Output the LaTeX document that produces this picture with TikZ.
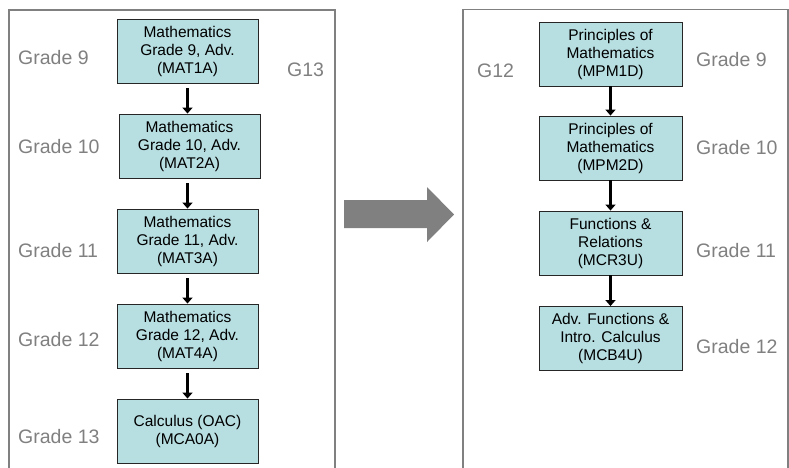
\documentclass[tikz,border=0pt]{standalone}
\usepackage{fontspec}
\setmainfont{Liberation Sans}
\usetikzlibrary{arrows.meta}
\definecolor{boxfill}{RGB}{183,222,225}
\definecolor{panelline}{RGB}{128,128,128}
\definecolor{labelgray}{RGB}{128,128,128}
\definecolor{bigarrow}{RGB}{128,128,128}
\tikzset{
  course/.style={draw=black!85, line width=0.9pt, fill=boxfill, rectangle,
    minimum width=141pt, minimum height=64pt, inner sep=0pt, align=center,
    font=\fontsize{15.5}{18}\selectfont},
  gradelbl/.style={text=labelgray, inner sep=0pt, font=\fontsize{19.5}{22}\selectfont},
  panel/.style={draw=panelline, line width=1.4pt},
  flow/.style={line width=3.2pt, -{Triangle[width=10pt,length=6pt]}}
}
\begin{document}
\begin{tikzpicture}[x=1pt,y=-1pt]
\useasboundingbox (0,0) rectangle (789,467);
% panels
\draw[panel] (9,470) -- (9,10) -- (335,10) -- (335,470);
\draw[panel] (463,470) -- (463,9.5) -- (788,9.5) -- (788,470);
% left column
\node[course] (l1) at (187.5,51) {Mathematics\\Grade 9, Adv.\\(MAT1A)};
\node[course] (l2) at (189.5,146) {Mathematics\\Grade 10, Adv.\\(MAT2A)};
\node[course] (l3) at (187.5,241) {Mathematics\\Grade 11, Adv.\\(MAT3A)};
\node[course] (l4) at (187.5,336) {Mathematics\\Grade 12, Adv.\\(MAT4A)};
\node[course] (l5) at (187.5,431) {Calculus (OAC)\\(MCA0A)};
\draw[flow] ([yshift=-5pt]l1.south) -- (l1.south |- l2.north);
\draw[flow] ([yshift=-5pt]l3.south |- l2.south) -- (l3.north);
\draw[flow] ([yshift=-5pt]l3.south) -- (l4.north);
\draw[flow] ([yshift=-5pt]l4.south) -- (l5.north);
\node[gradelbl, anchor=west] (lg9) at (18,58) {Grade 9};
\node[gradelbl, anchor=west] (lg10) at (18,147) {Grade 10};
\node[gradelbl, anchor=west] (lg11) at (18,251) {Grade 11};
\node[gradelbl, anchor=west] (lg12) at (18,340) {Grade 12};
\node[gradelbl, anchor=west] (lg13) at (18,437) {Grade 13};
\node[gradelbl, anchor=west] (g13) at (287,70) {G13};
% big arrow
\fill[bigarrow] (344,200) -- (427,200) -- (427,187) -- (454,214.5) -- (427,242) -- (427,228) -- (344,228) -- cycle;
% right column
\node[course, minimum width=143pt] (r1) at (610.5,54) {Principles of\\Mathematics\\(MPM1D)};
\node[course, minimum width=143pt] (r2) at (610.5,148) {Principles of\\Mathematics\\(MPM2D)};
\node[course, minimum width=143pt] (r3) at (610.5,243) {Functions \&\\Relations\\(MCR3U)};
\node[course, minimum width=143pt] (r4) at (610.5,338.5) {Adv. Functions \&\\Intro. Calculus\\(MCB4U)};
\draw[flow] (r1.south) -- (r2.north);
\draw[flow] (r2.south) -- (r3.north);
\draw[flow] (r3.south) -- (r4.north);
\node[gradelbl, anchor=west] (rg9) at (696,60) {Grade 9};
\node[gradelbl, anchor=west] (rg10) at (696,148) {Grade 10};
\node[gradelbl, anchor=west] (rg11) at (696,251) {Grade 11};
\node[gradelbl, anchor=west] (rg12) at (696,347) {Grade 12};
\node[gradelbl, anchor=west] (g12) at (477,71) {G12};
\end{tikzpicture}
\end{document}
